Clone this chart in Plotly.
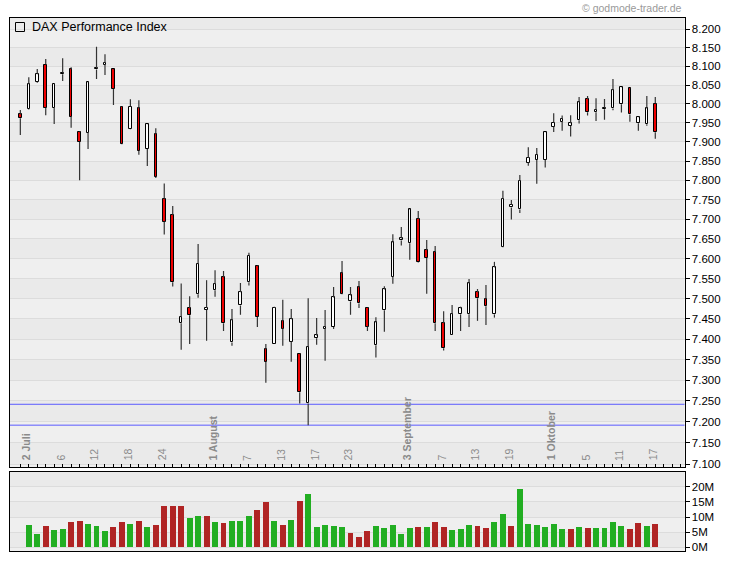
import math
import plotly.graph_objects as go

# ---------------- data ----------------
opens = [7972, 7987, 8059, 8105, 7990, 8079, 8092, 7925, 7924, 8092,
         8105, 8092, 7992, 7934, 7988, 7882, 7920, 7751, 7710, 7439,
         7476, 7511, 7473, 7521, 7553, 7392, 7483, 7541, 7581, 7375,
         7389, 7444, 7394, 7363, 7244, 7402, 7426, 7430, 7563, 7493,
         7528, 7478, 7385, 7471, 7555, 7646, 7639, 7701, 7621, 7616,
         7439, 7411, 7461, 7461, 7516, 7499, 7461, 7630, 7730, 7725,
         7846, 7853, 7853, 7940, 7953, 7942, 7957, 8012, 7978, 7986,
         7988, 7999, 8041, 7949, 7946, 8001]
highs = [7984, 8071, 8093, 8120, 8053, 8122, 8098, 7927, 8058, 8153,
         8133, 8093, 7994, 8012, 8010, 7947, 7936, 7792, 7734, 7538,
         7506, 7637, 7546, 7571, 7569, 7474, 7539, 7615, 7583, 7388,
         7480, 7497, 7474, 7364, 7501, 7452, 7472, 7529, 7594, 7529,
         7544, 7479, 7454, 7531, 7662, 7680, 7727, 7721, 7647, 7632,
         7469, 7484, 7480, 7549, 7524, 7534, 7592, 7773, 7749, 7814,
         7886, 7884, 7926, 7975, 7969, 7970, 8018, 8021, 8015, 8013,
         8066, 8045, 8042, 7966, 8021, 8018]
lows = [7918, 7985, 8056, 7970, 7947, 8061, 7937, 7800, 7881, 8066,
        8077, 7997, 7894, 7933, 7866, 7837, 7806, 7661, 7530, 7374,
        7388, 7502, 7396, 7505, 7420, 7384, 7460, 7533, 7430, 7294,
        7388, 7384, 7345, 7244, 7192, 7386, 7347, 7425, 7511, 7460,
        7477, 7420, 7355, 7418, 7537, 7633, 7597, 7590, 7512, 7420,
        7372, 7410, 7420, 7430, 7445, 7435, 7453, 7629, 7699, 7716,
        7838, 7791, 7833, 7926, 7929, 7914, 7948, 7969, 7955, 7958,
        7983, 7977, 7953, 7929, 7942, 7908]
closes = [7962, 8052, 8079, 7990, 8052, 8083, 7966, 7900, 8057, 8096,
          8109, 8040, 7895, 7993, 7877, 7946, 7809, 7694, 7541, 7454,
          7459, 7586, 7477, 7536, 7439, 7446, 7516, 7608, 7455, 7345,
          7477, 7426, 7449, 7271, 7380, 7409, 7430, 7503, 7512, 7508,
          7488, 7431, 7441, 7523, 7641, 7651, 7725, 7591, 7602, 7439,
          7378, 7461, 7476, 7538, 7501, 7481, 7578, 7752, 7737, 7798,
          7858, 7866, 7925, 7950, 7960, 7949, 8004, 7978, 7984, 7990,
          8036, 8044, 7972, 7965, 7988, 7925]
# volume in millions, first session has no volume bar
volumes_m = [None, 7.4, 4.4, 7.0, 5.7, 6.0, 8.3, 8.7, 7.7, 7.0, 5.4,
             6.7, 8.3, 7.7, 8.7, 6.7, 7.4, 13.6, 13.6, 13.6, 9.7,
             10.3, 10.3, 8.3, 8.0, 8.7, 8.7, 10.3, 12.3, 15.0, 8.7,
             7.4, 9.0, 15.3, 17.6, 6.7, 7.4, 7.0, 6.7, 4.7, 3.4,
             5.4, 7.0, 6.4, 7.4, 4.4, 6.4, 6.7, 6.7, 8.3, 6.7,
             5.7, 6.0, 7.4, 7.0, 6.4, 8.3, 11.0, 7.0, 19.2, 7.7,
             7.4, 6.7, 7.7, 6.0, 6.0, 6.7, 6.4, 6.4, 6.4, 8.3,
             7.0, 6.0, 8.0, 7.0, 7.7]
date_tick_sessions = [1, 5, 9, 13, 17, 23, 27, 31, 35, 39, 46, 50, 54, 58, 63, 67, 71, 75]
date_tick_labels = ["<b>2 Juli</b>", "6", "12", "18", "24", "<b>1 August</b>", "7", "13", "17", "23",
                    "<b>3 September</b>", "7", "13", "19", "<b>1 Oktober</b>", "5", "11", "17"]
support_levels = [7242, 7192]
price_ticks = list(range(7100, 8201, 50))
volume_ticks = [0, 5, 10, 15, 20]

# ---------------- layout helpers ----------------
W, H = 730, 564
def fx(p):
    return p / W
def fy(p):
    return 1 - p / H

FONT = "Arial, Liberation Sans, sans-serif"
n = len(opens)
idx = list(range(n))

body_base = [min(o, c) for o, c in zip(opens, closes)]
body_h = [abs(c - o) for o, c in zip(opens, closes)]
body_col = ["#ffffff" if c > o else "#ee0000" for o, c in zip(opens, closes)]

wx, wy = [], []
for i in idx:
    top = max(opens[i], closes[i])
    bot = min(opens[i], closes[i])
    wx += [i, i, None, i, i, None]
    wy += [highs[i], top, None, bot, lows[i], None]

GREEN, RED = "#22ae22", "#b02424"
vol_col = [GREEN] + [GREEN if closes[i] >= closes[i - 1] else RED for i in range(1, n)]

fig = go.Figure()
fig.add_trace(go.Bar(x=idx, y=body_h, base=body_base, width=0.3,
                     marker=dict(color=body_col, line=dict(color="black", width=1)),
                     xaxis="x", yaxis="y", hoverinfo="skip"))
fig.add_trace(go.Scatter(x=wx, y=wy, mode="lines", line=dict(color="#333333", width=1.2),
                         xaxis="x", yaxis="y", hoverinfo="skip"))
fig.add_trace(go.Bar(x=idx, y=volumes_m, width=0.7,
                     marker=dict(color=vol_col, line=dict(width=0)),
                     xaxis="x2", yaxis="y2", hoverinfo="skip"))

y_lo, y_hi = 7093, 8231
v_lo, v_hi = -1.22, 24.85

shapes = []
DARK = "#eaeaea"
shapes.append(dict(type="rect", xref="x domain", yref="y", x0=0, x1=1, y0=8200, y1=y_hi,
                   fillcolor=DARK, line=dict(width=0), layer="below"))
for p in price_ticks[:-1]:
    if (p + 50) % 100 == 50:
        shapes.append(dict(type="rect", xref="x domain", yref="y", x0=0, x1=1, y0=p, y1=p + 50,
                           fillcolor=DARK, line=dict(width=0), layer="below"))
for a, b in [(20, v_hi), (10, 15), (0, 5)]:
    shapes.append(dict(type="rect", xref="x2 domain", yref="y2", x0=0, x1=1, y0=a, y1=b,
                       fillcolor=DARK, line=dict(width=0), layer="below"))
for lv in support_levels:
    shapes.append(dict(type="line", xref="x domain", yref="y", x0=0, x1=1, y0=lv, y1=lv,
                       line=dict(color="#5a5aff", width=1), layer="below"))
shapes.append(dict(type="rect", xref="paper", yref="paper", x0=fx(15.5), x1=fx(24.5),
                   y0=fy(31.5), y1=fy(22.5), line=dict(color="black", width=1),
                   fillcolor="rgba(0,0,0,0)", layer="above"))

annotations = [
    dict(text="DAX Performance Index", xref="paper", yref="paper", x=fx(30), y=fy(27),
         xanchor="left", yanchor="middle", showarrow=False,
         font=dict(family=FONT, size=12.5, color="black")),
    dict(text="© godmode-trader.de", xref="paper", yref="paper", x=fx(684), y=fy(7.5),
         xanchor="right", yanchor="middle", showarrow=False,
         font=dict(family=FONT, size=10.5, color="#9a9a9a")),
]
# date labels drawn inside the price panel, rotated
for s, lab in zip(date_tick_sessions, date_tick_labels):
    annotations.append(dict(text=lab, xref="x", yref="paper", x=s - 0.3, y=fy(461.5),
                            xanchor="center", yanchor="bottom", textangle=-90,
                            showarrow=False, borderpad=0,
                            font=dict(family=FONT, size=10.5, color="#8a8a8a")))

xdom = [fx(10), fx(684.5)]
fig.update_layout(
    width=W, height=H, margin=dict(l=0, r=0, t=0, b=0),
    paper_bgcolor="white", plot_bgcolor="#efefef",
    showlegend=False, barmode="overlay", bargap=0,
    font=dict(family=FONT, size=11, color="black"),
    shapes=shapes, annotations=annotations,
    xaxis=dict(domain=xdom, range=[-1.22, 78.45], anchor="y",
               showgrid=False, zeroline=False, showline=True, mirror=True,
               linecolor="black", linewidth=1,
               tickmode="array", tickvals=date_tick_sessions, showticklabels=False,
               ticks="inside", ticklen=3, tickcolor="black",
               minor=dict(tickmode="array", tickvals=list(range(0, 79)), ticks="inside",
                          ticklen=3, tickcolor="black", showgrid=False),
               automargin=False),
    yaxis=dict(domain=[fy(467), fy(18)], type="log",
               range=[math.log10(y_lo), math.log10(y_hi)], anchor="x", side="right",
               tickmode="array", tickvals=price_ticks,
               ticktext=[f"{v / 1000:.3f}" for v in price_ticks],
               ticks="outside", ticklen=4, tickcolor="black",
               showgrid=True, gridcolor="#dcdcdc", gridwidth=1,
               showline=True, mirror=True, linecolor="black", linewidth=1,
               zeroline=False, tickfont=dict(family=FONT, size=11.5, color="black"),
               automargin=False),
    xaxis2=dict(domain=xdom, range=[-1.22, 78.45], anchor="y2",
                showgrid=False, zeroline=False, showline=True, mirror=True,
                linecolor="black", linewidth=1, showticklabels=False, ticks="",
                automargin=False),
    yaxis2=dict(domain=[fy(551), fy(472)], range=[v_lo, v_hi], anchor="x2", side="right",
                tickmode="array", tickvals=volume_ticks,
                ticktext=[f"{v}M" for v in volume_ticks],
                ticks="outside", ticklen=4, tickcolor="black",
                showgrid=True, gridcolor="#dcdcdc", gridwidth=1,
                showline=True, mirror=True, linecolor="black", linewidth=1,
                zeroline=False, tickfont=dict(family=FONT, size=11.5, color="black"),
                automargin=False),
)

fig.write_html("out.html", config={"displayModeBar": False},
               post_script="document.body.style.margin='0';")
